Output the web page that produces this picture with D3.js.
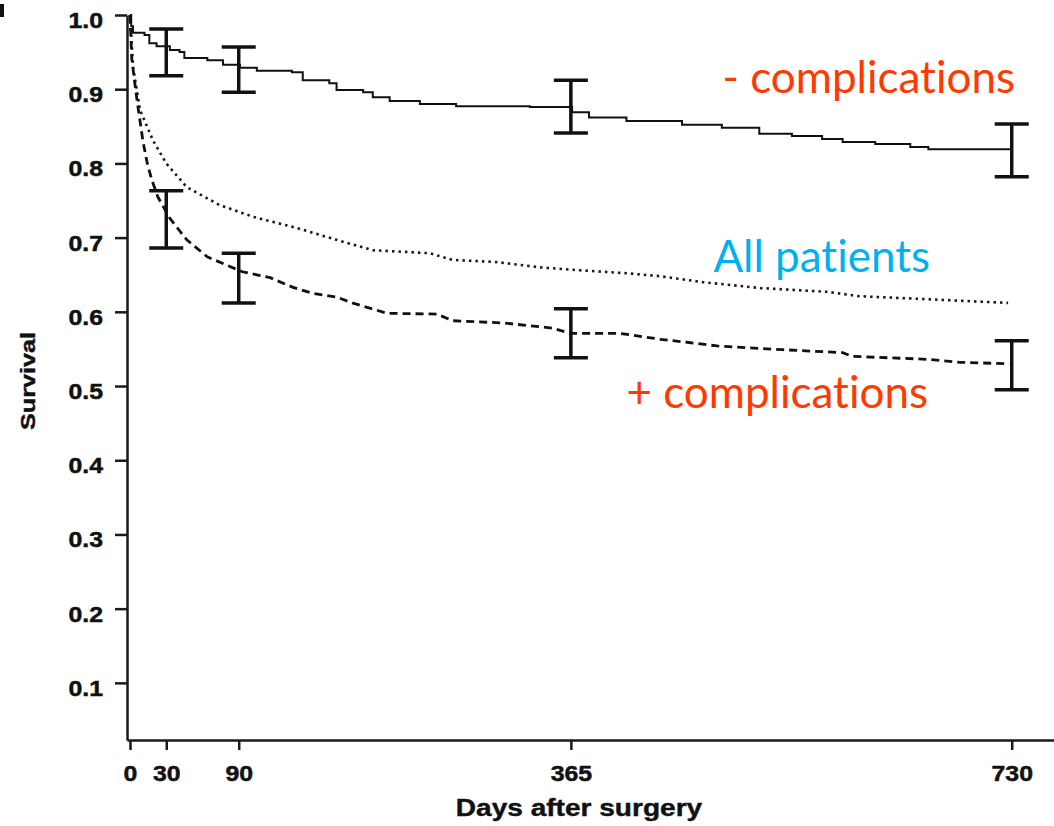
<!DOCTYPE html>
<html>
<head>
<meta charset="utf-8">
<script src="https://cdn.jsdelivr.net/npm/d3@7"></script>
<style>
    body { margin: 0; background: #fff; }
    svg { display: block; }
    .axis text { font-family: "Liberation Sans", Arial, sans-serif; font-weight: bold; font-size: 22px; fill: #111; stroke: #111; stroke-width: 0.5; }
    .axis path, .axis line { stroke: #1a1a1a; stroke-width: 2.5; }
    .lbl { font-family: Lato, "Open Sans", sans-serif; font-variant-ligatures: none; }
    .title { font-family: "Liberation Sans", Arial, sans-serif; font-weight: bold; fill: #111; stroke: #111; stroke-width: 0.4; }
</style>
</head>
<body>
<svg id="chart" width="1054" height="826"></svg>
<script>
// Kaplan-Meier curves: [day, survival]
const noComplications = [
    [0, 1.0], [1, 0.985], [2.5, 0.976], [12, 0.973], [16, 0.962], [22, 0.958], [33, 0.953],
    [41, 0.95], [45, 0.942], [64, 0.939], [77, 0.933], [91, 0.929], [105, 0.925], [134, 0.923],
    [143, 0.912], [165, 0.908], [171, 0.899], [193, 0.896], [201, 0.889], [215, 0.884],
    [240, 0.880], [270, 0.877], [331, 0.876], [366, 0.869], [380, 0.862], [411, 0.857],
    [457, 0.852], [490, 0.848], [521, 0.840], [548, 0.837], [573, 0.833], [590, 0.829],
    [617, 0.826], [646, 0.822], [661, 0.819], [730, 0.819]
];
const withComplications = [
    [0, 1.0], [1.5, 0.94], [5.8, 0.885], [10.7, 0.83], [14.3, 0.80], [18, 0.778], [23, 0.755],
    [33, 0.726], [47, 0.697], [64, 0.674], [93, 0.654], [116, 0.646], [135, 0.633], [151, 0.625],
    [171, 0.62], [184, 0.612], [213, 0.598], [254, 0.597], [267, 0.588], [309, 0.585],
    [350, 0.578], [364, 0.571], [405, 0.571], [414, 0.569], [439, 0.563], [461, 0.559],
    [486, 0.554], [540, 0.549], [590, 0.545], [598, 0.540], [660, 0.536], [687, 0.532], [728, 0.53]
];
const allPatients = [
    [0, 1.0], [2.5, 0.93], [8.3, 0.872], [19, 0.831], [30, 0.80], [47, 0.768], [74, 0.744],
    [102, 0.728], [138, 0.713], [171, 0.697], [201, 0.683], [248, 0.679], [267, 0.670],
    [304, 0.667], [339, 0.660], [372, 0.656], [411, 0.652], [439, 0.648], [474, 0.640],
    [522, 0.632], [577, 0.627], [604, 0.621], [660, 0.617], [727, 0.612]
];

// error bars at fixed time points
const barDays = [30, 90, 365, 730];
const noCompLow = [0.918, 0.896, 0.841, 0.782];
const noCompHigh = [0.981, 0.957, 0.912, 0.853];
const compLow = [0.686, 0.612, 0.538, 0.495];
const compHigh = [0.763, 0.679, 0.604, 0.561];

const xTicks = [0, 30, 90, 365, 730];
const yTicks = [0.1, 0.2, 0.3, 0.4, 0.5, 0.6, 0.7, 0.8, 0.9, 1.0];

const svg = d3.select('#chart');
const wide = 1.13;
const stretch = `scale(${wide},1)`;

const x = d3.scaleLinear().domain([-2.5, 765]).range([127, 1054]);
const y = d3.scaleLinear().domain([0.023, 1.0]).range([740, 15]);

// axes
const xAxis = svg.append('g')
    .attr('class', 'axis')
    .attr('transform', 'translate(0,740)')
    .call(d3.axisBottom(x).tickValues(xTicks).tickSize(10).tickSizeOuter(0));
xAxis.selectAll('text')
    .attr('y', 41).attr('dy', 0)
    .attr('transform', stretch);

const yAxis = svg.append('g')
    .attr('class', 'axis')
    .attr('transform', 'translate(127,0)')
    .call(d3.axisLeft(y).tickValues(yTicks).tickFormat(d3.format('.1f')).tickSize(12).tickSizeOuter(0));
yAxis.selectAll('text')
    .attr('x', -24 / wide).attr('dy', 0).attr('y', 12.5)
    .attr('transform', stretch);

// axis titles
svg.append('text')
    .attr('class', 'title')
    .attr('transform', 'translate(35,381) rotate(-90) scale(1.2,1)')
    .attr('text-anchor', 'middle')
    .style('font-size', '21px')
    .text('Survival');

svg.append('text')
    .attr('class', 'title')
    .attr('transform', 'translate(579,816) scale(1.22,1)')
    .attr('text-anchor', 'middle')
    .style('font-size', '23px')
    .text('Days after surgery');

// clipped panel letter at top-left
svg.append('rect').attr('x', 0).attr('y', 4).attr('width', 4).attr('height', 13).attr('fill', '#111');

// curves
const line = d3.line().x(d => x(d[0])).y(d => y(d[1]));

svg.append('path')
    .datum(noComplications)
    .attr('d', line.curve(d3.curveStepAfter))
    .attr('fill', 'none')
    .attr('stroke', '#111')
    .attr('stroke-width', 2);

svg.append('path')
    .datum(allPatients)
    .attr('d', line.curve(d3.curveLinear))
    .attr('fill', 'none')
    .attr('stroke', '#1a1a1a')
    .attr('stroke-width', 2.6)
    .attr('stroke-dasharray', '2.5,4');

svg.append('path')
    .datum(withComplications)
    .attr('d', line.curve(d3.curveLinear))
    .attr('fill', 'none')
    .attr('stroke', '#111')
    .attr('stroke-width', 2.8)
    .attr('stroke-dasharray', '8,5');

// error bars
function drawBars(lows, highs) {
    const g = svg.append('g').attr('stroke', '#111').attr('stroke-width', 3.5);
    barDays.forEach((d, i) => {
        const cx = x(d);
        g.append('line').attr('x1', cx).attr('x2', cx).attr('y1', y(lows[i])).attr('y2', y(highs[i]));
        g.append('line').attr('x1', cx - 17).attr('x2', cx + 17).attr('y1', y(lows[i])).attr('y2', y(lows[i]));
        g.append('line').attr('x1', cx - 17).attr('x2', cx + 17).attr('y1', y(highs[i])).attr('y2', y(highs[i]));
    });
}
drawBars(noCompLow, noCompHigh);
drawBars(compLow, compHigh);

// curve labels
svg.append('text').attr('class', 'lbl')
    .attr('x', 1015).attr('y', 93).attr('text-anchor', 'end')
    .style('font-size', '44px').attr('fill', '#ff3a00')
    .text('- complications');
svg.append('text').attr('class', 'lbl')
    .attr('x', 930).attr('y', 272).attr('text-anchor', 'end')
    .style('font-size', '44px').attr('fill', '#00b0f0')
    .text('All patients');
svg.append('text').attr('class', 'lbl')
    .attr('x', 928).attr('y', 408).attr('text-anchor', 'end')
    .style('font-size', '44px').attr('fill', '#ff3a00')
    .text('+ complications');
</script>
</body>
</html>
